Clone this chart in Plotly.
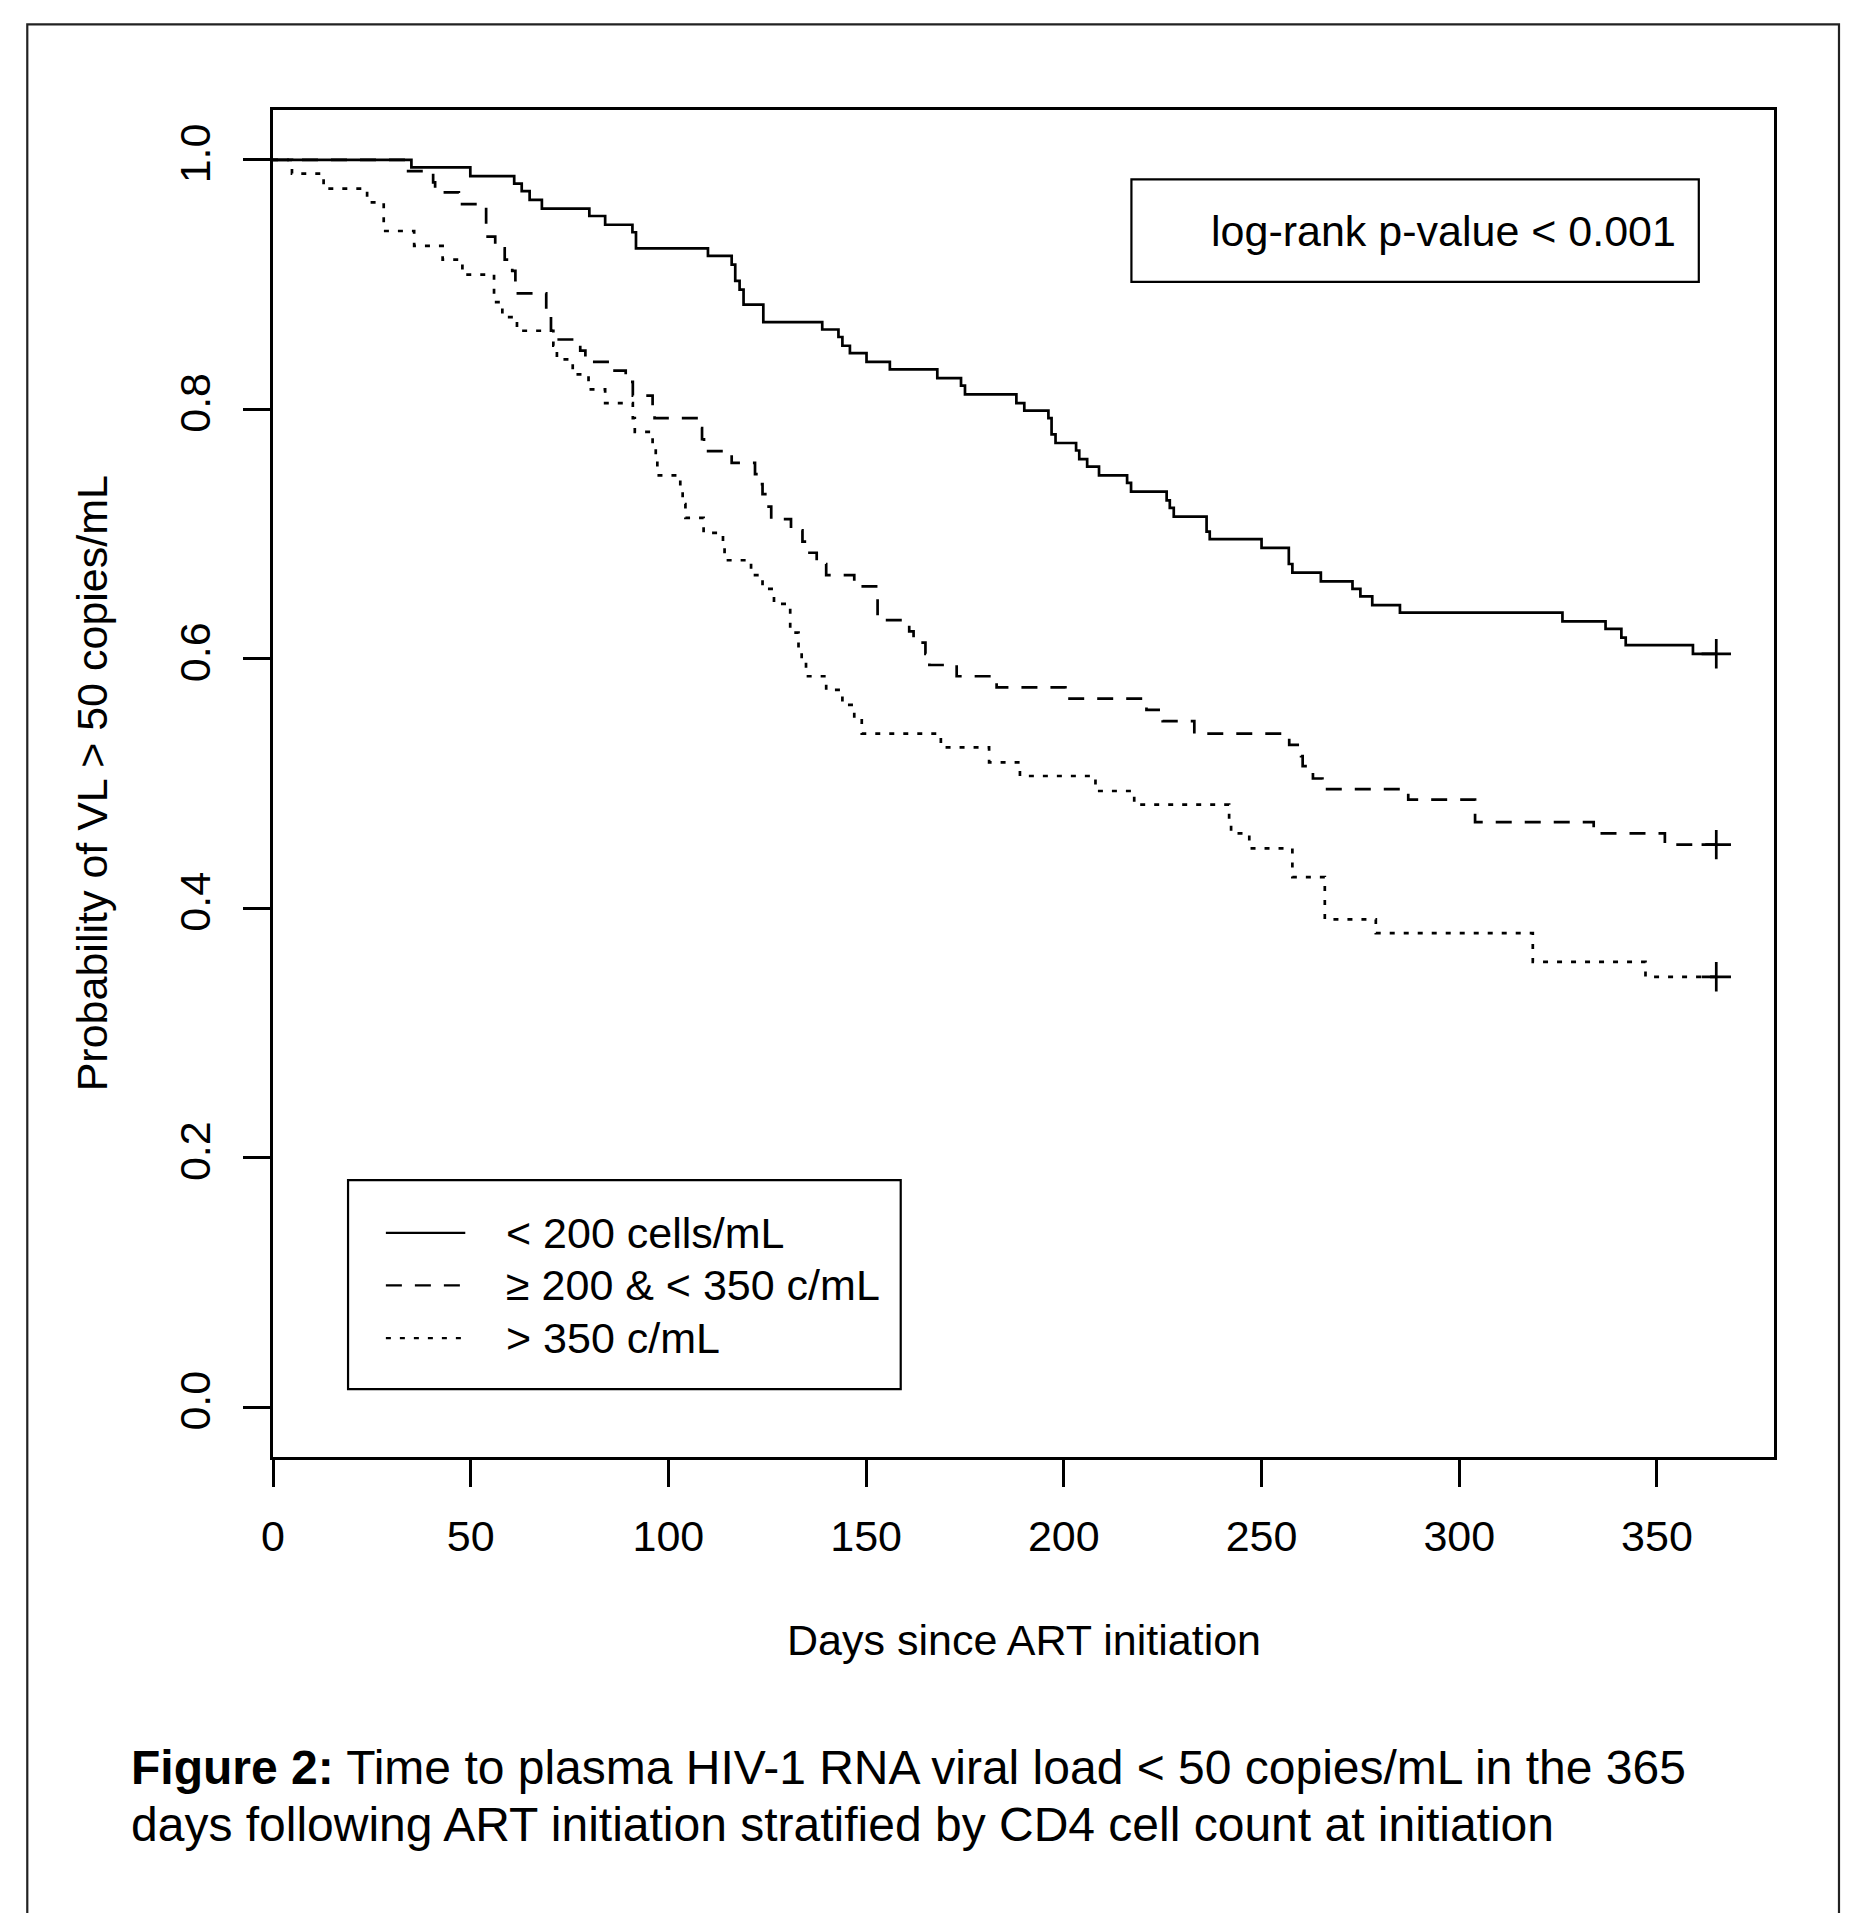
import plotly.graph_objects as go

# ---- data (Kaplan-Meier step curves) ----
GROUP_NAMES = ["&lt; 200 cells/mL", "≥ 200 &amp; &lt; 350 c/mL", "&gt; 350 c/mL"]

LT200_DAYS = [0, 35.0, 49.9, 61.0, 62.9, 64.9, 68.0, 80.0, 84.0, 90.9, 91.8, 110.0, 116.0,
              116.9, 118.0, 119.0, 124.0, 138.9, 143.0, 144.0, 145.9, 150.1, 156.0, 168.0,
              174.0, 175.0, 188.0, 190.0, 196.1, 196.9, 197.9, 203.1, 203.9, 205.9, 208.9,
              216.0, 217.0, 226.0, 226.8, 227.8, 236.1, 236.9, 250.0, 256.9, 257.8, 265.0,
              273.0, 275.0, 278.0, 285.0, 326.1, 337.0, 341.0, 342.1, 359.1]
LT200_SURV = [1.0, 0.994, 0.987, 0.981, 0.975, 0.968, 0.961, 0.955, 0.948, 0.942, 0.929, 0.923,
              0.916, 0.903, 0.896, 0.884, 0.870, 0.864, 0.858, 0.851, 0.845, 0.838, 0.832, 0.825,
              0.819, 0.812, 0.805, 0.799, 0.793, 0.780, 0.773, 0.767, 0.760, 0.754, 0.747,
              0.741, 0.734, 0.727, 0.721, 0.714, 0.702, 0.696, 0.689, 0.676, 0.669, 0.662,
              0.656, 0.650, 0.643, 0.637, 0.630, 0.624, 0.617, 0.611, 0.604]

MID_DAYS = [0, 33.5, 40.5, 41.0, 47.0, 53.9, 56.2, 58.6, 60.5, 61.3, 69.1, 70.3, 71.0, 77.7,
            79.0, 85.3, 89.2, 91.0, 96.0, 96.5, 108.0, 108.5, 109.0, 116.0, 121.9, 123.0,
            123.8, 124.5, 126.0, 131.0, 133.9, 134.5, 137.5, 139.9, 147.0, 152.9, 160.9,
            162.0, 165.0, 166.0, 172.9, 183.0, 200.4, 220.9, 225.0, 233.0, 257.0, 260.0,
            260.4, 263.0, 265.4, 287.1, 304.0, 334.0, 352.0]
MID_SURV = [1.0, 0.991, 0.982, 0.974, 0.9645, 0.9385, 0.929, 0.920, 0.911, 0.893, 0.880, 0.863,
            0.856, 0.847, 0.838, 0.831, 0.822, 0.811, 0.802, 0.793, 0.785, 0.776, 0.7665, 0.757,
            0.748, 0.740, 0.732, 0.722, 0.712, 0.703, 0.694, 0.685, 0.676, 0.667, 0.658, 0.631,
            0.622, 0.613, 0.604, 0.595, 0.586, 0.577, 0.568, 0.559, 0.550, 0.540, 0.531, 0.522,
            0.514, 0.504, 0.4955, 0.487, 0.469, 0.460, 0.451]

GT350_DAYS = [0, 4.8, 12.8, 23.8, 28.0, 35.7, 42.9, 47.9, 55.9, 58.0, 61.7, 70.9, 71.8, 75.8,
              79.8, 84.0, 91.0, 91.5, 96.0, 96.8, 97.2, 103.0, 103.6, 104.3, 108.9, 113.8,
              114.2, 120.9, 123.8, 126.7, 130.8, 132.9, 133.7, 134.8, 139.9, 144.0, 147.0,
              148.9, 168.9, 181.1, 188.9, 208.0, 217.8, 241.8, 242.3, 246.9, 257.8, 266.0,
              278.9, 318.6, 347.1]
GT350_SURV = [1.0, 0.989, 0.977, 0.966, 0.943, 0.931, 0.920, 0.908, 0.886, 0.874, 0.863, 0.851,
              0.840, 0.828, 0.816, 0.805, 0.793, 0.782, 0.771, 0.759, 0.747, 0.736, 0.724,
              0.713, 0.701, 0.690, 0.679, 0.667, 0.656, 0.644, 0.621, 0.609, 0.598, 0.586,
              0.575, 0.563, 0.552, 0.540, 0.529, 0.517, 0.506, 0.494, 0.483, 0.471, 0.460,
              0.448, 0.425, 0.391, 0.380, 0.357, 0.345]

CENSOR_DAY = 365
X_TICKS = [0, 50, 100, 150, 200, 250, 300, 350]
Y_TICKS = [0.0, 0.2, 0.4, 0.6, 0.8, 1.0]
Y_TICK_LABELS = ["0.0", "0.2", "0.4", "0.6", "0.8", "1.0"]

X_TITLE = "Days since ART initiation"
Y_TITLE = "Probability of VL &gt; 50 copies/mL"
PVALUE_TEXT = "log-rank p-value &lt; 0.001"
CAPTION_1 = "<b>Figure 2:</b> Time to plasma HIV-1 RNA viral load &lt; 50 copies/mL in the 365"
CAPTION_2 = "days following ART initiation stratified by CD4 cell count at initiation"

# ---- styling ----
FONT = "Liberation Sans, Arial, Helvetica, sans-serif"
LW = 2.7
DASHES = ["solid", "16px,13px", "5px,9px"]

series = [(LT200_DAYS, LT200_SURV), (MID_DAYS, MID_SURV), (GT350_DAYS, GT350_SURV)]

fig = go.Figure()
for (days, surv), name, dash in zip(series, GROUP_NAMES, DASHES):
    fig.add_trace(go.Scatter(
        x=days + [CENSOR_DAY], y=surv + [surv[-1]], mode="lines", name=name,
        line=dict(shape="hv", color="black", width=LW, dash=dash),
        showlegend=False, hoverinfo="x+y"))

fig.add_trace(go.Scatter(
    x=[CENSOR_DAY] * 3, y=[s[-1] for _, s in series], mode="markers",
    marker=dict(symbol="cross-thin", size=21, color="black",
                line=dict(width=LW, color="black")),
    showlegend=False, hoverinfo="skip"))

axis_common = dict(
    showline=True, linecolor="black", linewidth=LW, mirror=True,
    ticks="outside", ticklen=27, tickwidth=LW, tickcolor="black",
    showgrid=False, zeroline=False,
    tickfont=dict(family=FONT, size=43, color="black"),
)

fig.update_layout(
    width=1855, height=1913,
    margin=dict(l=273, r=81, t=110, b=456),
    paper_bgcolor="white", plot_bgcolor="white",
    font=dict(family=FONT, size=43, color="black"),
    xaxis=dict(range=[0, CENSOR_DAY * 1.04], tickvals=X_TICKS,
               ticklabelstandoff=13, **axis_common),
    yaxis=dict(range=[-0.04, 1.04], tickvals=Y_TICKS, ticktext=Y_TICK_LABELS,
               tickangle=-90, ticklabelstandoff=16, **axis_common),
)

shapes = []
annotations = []

# axis titles
annotations.append(dict(text=X_TITLE, xref="paper", yref="paper", x=0.5, y=-0.1361,
                        xanchor="center", yanchor="middle", showarrow=False,
                        font=dict(family=FONT, size=43, color="black")))
annotations.append(dict(text=Y_TITLE, xref="paper", yref="paper", x=-0.1207, y=0.5,
                        xanchor="center", yanchor="middle", textangle=-90, showarrow=False,
                        font=dict(family=FONT, size=43, color="black")))

# p-value box
shapes.append(dict(type="rect", xref="paper", yref="paper", x0=0.5719, x1=0.9499,
                   y0=0.8724, y1=0.9485, line=dict(color="black", width=2.2)))
annotations.append(dict(text=PVALUE_TEXT, xref="paper", yref="paper", x=0.9361, y=0.9104,
                        xanchor="right", yanchor="middle", showarrow=False,
                        font=dict(family=FONT, size=43, color="black")))

# legend box
shapes.append(dict(type="rect", xref="paper", yref="paper", x0=0.05, x1=0.4182,
                   y0=0.0504, y1=0.2055, line=dict(color="black", width=2.2)))
row_y = [0.1664, 0.1274, 0.0883]
for name, dash, yy in zip(GROUP_NAMES, DASHES, row_y):
    shapes.append(dict(type="line", xref="paper", yref="paper", x0=0.0752, x1=0.1281,
                       y0=yy, y1=yy, line=dict(color="black", width=2.2, dash=dash)))
    annotations.append(dict(text=name, xref="paper", yref="paper", x=0.1541, y=yy,
                            xanchor="left", yanchor="middle", showarrow=False,
                            font=dict(family=FONT, size=43, color="black")))

# caption
annotations.append(dict(text=CAPTION_1, xref="paper", yref="paper", x=-0.0957, y=-0.2304,
                        xanchor="left", yanchor="middle", showarrow=False,
                        font=dict(family=FONT, size=48, color="black")))
annotations.append(dict(text=CAPTION_2, xref="paper", yref="paper", x=-0.0957, y=-0.2731,
                        xanchor="left", yanchor="middle", showarrow=False,
                        font=dict(family=FONT, size=48, color="black")))

# outer frame
shapes.append(dict(type="rect", xref="paper", yref="paper", x0=-0.1637, x1=1.0433,
                   y0=-0.3515, y1=1.0636, line=dict(color="#222222", width=2.2),
                   layer="below"))

fig.update_layout(shapes=shapes, annotations=annotations)

fig.write_html("out.html", config={"displayModeBar": False},
               post_script="document.body.style.margin='0';")
